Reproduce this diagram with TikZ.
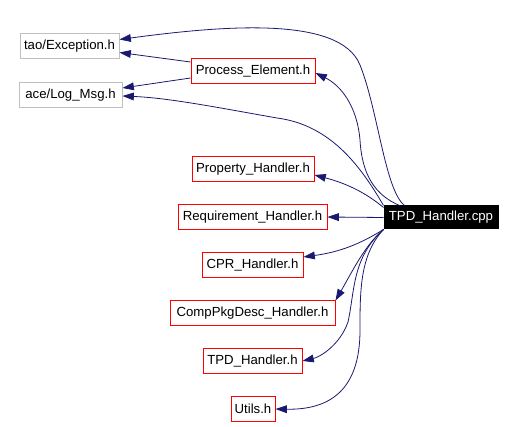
\documentclass[tikz,border=0pt]{standalone}
\usepackage{fontspec}
\setmainfont{Liberation Sans}
\usetikzlibrary{arrows.meta,calc}
\definecolor{edgec}{RGB}{25,25,112}
\definecolor{greyb}{RGB}{191,191,191}
\tikzset{
  filebox/.style={draw=#1, line width=0.75pt, fill=white, inner sep=0pt, minimum height=18.75pt, font=\fontsize{9.9}{12}\selectfont},
  edge/.style={draw=edgec, line width=0.6pt, -{Triangle[length=8.5pt,width=5.8pt]}}
}
\begin{document}
\begin{tikzpicture}[x=0.75pt,y=-0.75pt]
\useasboundingbox (0,0) rectangle (515,427);
\node[filebox=greyb, minimum width=74.25pt] (tao) at (69.5,46.5) {tao/Exception.h};
\node[filebox=greyb, minimum width=77.25pt] (ace) at (70.5,95) {ace/Log\_Msg.h};
\node[filebox=red, minimum width=93pt] (proc) at (253,71) {Process\_Element.h};
\node[filebox=red, minimum width=91.5pt] (prop) at (253,169) {Property\_Handler.h};
\node[filebox=red, minimum width=111.75pt] (req) at (252.5,217) {Requirement\_Handler.h};
\node[filebox=black, fill=black, text=white, minimum width=85.5pt, minimum height=17.25pt] (cpp) at (441,217.5) {TPD\_Handler.cpp};
\node[filebox=red, minimum width=75.75pt] (cpr) at (252.5,265) {CPR\_Handler.h};
\node[filebox=red, minimum width=123.75pt] (comp) at (252.5,313.5) {CompPkgDesc\_Handler.h};
\node[filebox=red, minimum width=74.25pt] (tpdh) at (252.5,361) {TPD\_Handler.h};
\node[filebox=red, minimum width=33pt] (utils) at (253,409) {Utils.h};

% cpp -> tao/Exception.h
\draw[edge] ($(cpp.north west)+(21,0)$) .. controls (385,190) and (378,110) .. (360,65)
  .. controls (340,15) and (220,26) .. ($(tao.north east)+(0,6)$);
% Process_Element -> tao, ace
\draw[edge] ($(proc.west)+(0,-9)$) -- ($(tao.east)+(0,6)$);
\draw[edge] ($(proc.west)+(0,7)$) -- ($(ace.east)+(0,-7)$);
% cpp -> ace/Log_Msg.h
\draw[edge] (cpp.north west) .. controls (360,165) and (330,125) .. (277,118)
  .. controls (220,108) and (170,98) .. ($(ace.east)+(0,1)$);
% cpp -> Process_Element
\draw[edge] ($(cpp.north west)+(16,0)$) .. controls (375,195) and (362,175) .. (360,140)
  .. controls (357,105) and (340,85) .. ($(proc.east)+(0,2)$);
% cpp -> Property_Handler
\draw[edge] ($(cpp.west)+(0,-10)$) .. controls (365,192) and (345,183) .. ($(prop.east)+(0,6)$);
% cpp -> Requirement_Handler
\draw[edge] (cpp.west) -- (req.east);
% cpp -> CPR_Handler
\draw[edge] (cpp.south west) .. controls (360,244) and (340,252) .. ($(cpr.east)+(0,-8)$);
% cpp -> CompPkgDesc_Handler
\draw[edge] (cpp.south west) .. controls (365,245) and (352,272) .. (comp.north east);
% cpp -> TPD_Handler.h
\draw[edge] (cpp.south west) .. controls (352,258) and (355,290) .. (348,322)
  .. controls (340,345) and (320,357) .. (tpdh.east);
% cpp -> Utils.h
\draw[edge] (cpp.south west) .. controls (360,255) and (360,290) .. (360,330)
  .. controls (360,390) and (330,410) .. (utils.east);
\end{tikzpicture}
\end{document}
